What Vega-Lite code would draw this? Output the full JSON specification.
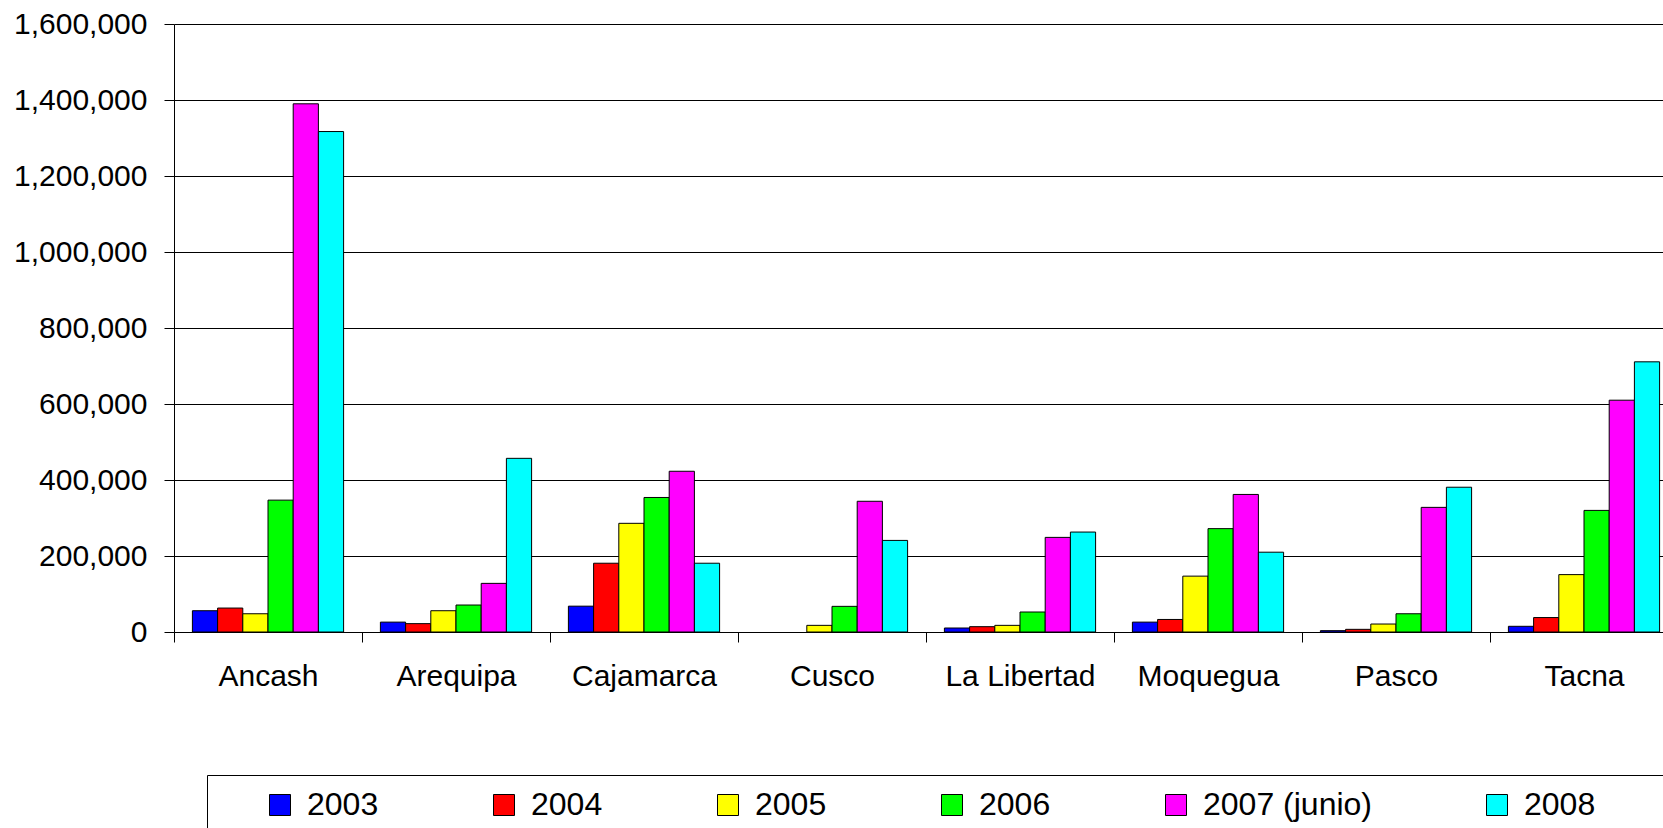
{
  "$schema": "https://vega.github.io/schema/vega-lite/v6.json",
  "autosize": "none",
  "width": 1489,
  "height": 608,
  "padding": {"left": 174, "top": 24, "right": 0, "bottom": 196},
  "background": "white",
  "config": {
    "font": "Liberation Sans",
    "view": {"stroke": null}
  },
  "data": {
    "values": [
      {"region": "Ancash", "year": "2003", "value": 56000},
      {"region": "Ancash", "year": "2004", "value": 63000},
      {"region": "Ancash", "year": "2005", "value": 48000},
      {"region": "Ancash", "year": "2006", "value": 347000},
      {"region": "Ancash", "year": "2007 (junio)", "value": 1390000},
      {"region": "Ancash", "year": "2008", "value": 1317000},
      {"region": "Arequipa", "year": "2003", "value": 26000},
      {"region": "Arequipa", "year": "2004", "value": 22000},
      {"region": "Arequipa", "year": "2005", "value": 56000},
      {"region": "Arequipa", "year": "2006", "value": 71000},
      {"region": "Arequipa", "year": "2007 (junio)", "value": 128000},
      {"region": "Arequipa", "year": "2008", "value": 457000},
      {"region": "Cajamarca", "year": "2003", "value": 68000},
      {"region": "Cajamarca", "year": "2004", "value": 181000},
      {"region": "Cajamarca", "year": "2005", "value": 286000},
      {"region": "Cajamarca", "year": "2006", "value": 354000},
      {"region": "Cajamarca", "year": "2007 (junio)", "value": 423000},
      {"region": "Cajamarca", "year": "2008", "value": 181000},
      {"region": "Cusco", "year": "2005", "value": 17500},
      {"region": "Cusco", "year": "2006", "value": 67500},
      {"region": "Cusco", "year": "2007 (junio)", "value": 344000},
      {"region": "Cusco", "year": "2008", "value": 241000},
      {"region": "La Libertad", "year": "2003", "value": 10500},
      {"region": "La Libertad", "year": "2004", "value": 14000},
      {"region": "La Libertad", "year": "2005", "value": 17500},
      {"region": "La Libertad", "year": "2006", "value": 52600},
      {"region": "La Libertad", "year": "2007 (junio)", "value": 249000},
      {"region": "La Libertad", "year": "2008", "value": 263000},
      {"region": "Moquegua", "year": "2003", "value": 26000},
      {"region": "Moquegua", "year": "2004", "value": 33000},
      {"region": "Moquegua", "year": "2005", "value": 147000},
      {"region": "Moquegua", "year": "2006", "value": 272000},
      {"region": "Moquegua", "year": "2007 (junio)", "value": 362000},
      {"region": "Moquegua", "year": "2008", "value": 210000},
      {"region": "Pasco", "year": "2003", "value": 3500},
      {"region": "Pasco", "year": "2004", "value": 7000},
      {"region": "Pasco", "year": "2005", "value": 21000},
      {"region": "Pasco", "year": "2006", "value": 48000},
      {"region": "Pasco", "year": "2007 (junio)", "value": 328000},
      {"region": "Pasco", "year": "2008", "value": 381000},
      {"region": "Tacna", "year": "2003", "value": 15000},
      {"region": "Tacna", "year": "2004", "value": 38000},
      {"region": "Tacna", "year": "2005", "value": 151000},
      {"region": "Tacna", "year": "2006", "value": 320000},
      {"region": "Tacna", "year": "2007 (junio)", "value": 610000},
      {"region": "Tacna", "year": "2008", "value": 711000}
    ]
  },
  "mark": {"type": "bar", "stroke": "black", "strokeWidth": 1, "opacity": 1},
  "encoding": {
    "x": {
      "field": "region",
      "type": "nominal",
      "sort": null,
      "scale": {"range": [0, 1504], "paddingInner": 0, "paddingOuter": 0},
      "axis": {
        "title": null,
        "labelAngle": 0,
        "labelFontSize": 30,
        "labelColor": "black",
        "labelPadding": 19,
        "tickBand": "extent",
        "tickSize": 10,
        "tickColor": "black",
        "domainColor": "black",
        "grid": false
      }
    },
    "xOffset": {
      "field": "year",
      "type": "nominal",
      "scale": {"paddingInner": 0, "paddingOuter": 0.73}
    },
    "y": {
      "field": "value",
      "type": "quantitative",
      "scale": {"domain": [0, 1600000], "nice": false},
      "axis": {
        "title": null,
        "values": [0, 200000, 400000, 600000, 800000, 1000000, 1200000, 1400000, 1600000],
        "format": ",d",
        "labelFontSize": 30,
        "labelColor": "black",
        "labelPadding": 17,
        "tickSize": 10,
        "tickColor": "black",
        "domainColor": "black",
        "gridColor": "black",
        "gridOpacity": 1
      }
    },
    "color": {
      "field": "year",
      "type": "nominal",
      "scale": {
        "domain": ["2003", "2004", "2005", "2006", "2007 (junio)", "2008"],
        "range": ["#0000FF", "#FF0000", "#FFFF00", "#00FF00", "#FF00FF", "#00FFFF"]
      },
      "legend": {
        "title": "\u00a0",
        "titleOrient": "right",
        "titlePadding": 56,
        "titleFontSize": 32,
        "orient": "none",
        "legendX": 33,
        "legendY": 751,
        "direction": "horizontal",
        "columns": 6,
        "padding": 14,
        "strokeColor": "black",
        "symbolType": "square",
        "symbolSize": 441,
        "symbolStrokeColor": "black",
        "symbolStrokeWidth": 1,
        "symbolOffset": 43,
        "labelOffset": 11,
        "labelFontSize": 32,
        "labelLimit": 400,
        "labelColor": "black",
        "columnPadding": 66
      }
    }
  }
}
